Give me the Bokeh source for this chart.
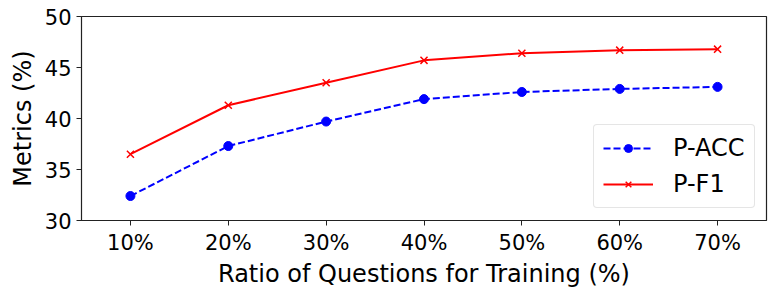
from bokeh.plotting import figure
from bokeh.models import Legend, LegendItem, FixedTicker, Range1d
from bokeh.embed import file_html
from bokeh.resources import INLINE

ratios = ["10%", "20%", "30%", "40%", "50%", "60%", "70%"]
p_acc = [32.4, 37.3, 39.7, 41.9, 42.6, 42.9, 43.1]
p_f1 = [36.5, 41.3, 43.5, 45.7, 46.4, 46.7, 46.8]
y_ticks = [30, 35, 40, 45, 50]

FONT = "DejaVu Sans"

p = figure(x_range=ratios, y_range=Range1d(30, 50), frame_width=685, frame_height=204,
           output_backend="svg", toolbar_location=None,
           min_border_left=81, min_border_top=16, min_border_right=7, min_border_bottom=10)
p.x_range.range_padding = 0
p.grid.visible = False
p.outline_line_color = "#222222"
p.outline_line_width = 1.2
p.background_fill_color = "white"
p.border_fill_color = "white"

r1l = p.line(ratios, p_acc, line_color="#0000ff", line_width=2, line_dash="7 3")
r1m = p.scatter(ratios, p_acc, marker="circle", size=9, fill_color="#0000ff", line_color="#0000ff")
r2l = p.line(ratios, p_f1, line_color="#ff0000", line_width=2)
r2m = p.scatter(ratios, p_f1, marker="x", size=10, line_color="#ff0000", line_width=1.5)

p.yaxis.ticker = FixedTicker(ticks=y_ticks)
for ax in (p.xaxis[0], p.yaxis[0]):
    ax.axis_line_color = "#222222"
    ax.major_tick_line_color = "#222222"
    ax.major_tick_out = 5
    ax.major_tick_in = 0
    ax.minor_tick_out = 0
    ax.minor_tick_in = 0
    ax.major_label_text_font = FONT
    ax.major_label_text_font_size = "21px"
    ax.major_label_text_color = "black"
    ax.axis_label_text_font = FONT
    ax.axis_label_text_font_size = "24px"
    ax.axis_label_text_font_style = "normal"
    ax.axis_label_text_color = "black"
p.xaxis.axis_label = "Ratio of Questions for Training (%)"
p.yaxis.axis_label = "Metrics (%)"
p.xaxis.major_label_standoff = 5
p.yaxis.major_label_standoff = 5
p.xaxis.axis_label_standoff = 2
p.yaxis.axis_label_standoff = 5

legend = Legend(items=[LegendItem(label="P-ACC", renderers=[r1l, r1m]),
                       LegendItem(label="P-F1", renderers=[r2l, r2m])],
                location=(512, 12))
legend.label_text_font = FONT
legend.label_text_font_size = "24px"
legend.label_text_color = "black"
legend.border_line_color = "#cccccc"
legend.border_line_width = 1
legend.border_radius = 4
legend.glyph_width = 50
legend.glyph_height = 20
legend.label_height = 28
legend.spacing = 8
legend.padding = 9
legend.margin = 0
legend.label_standoff = 20
p.add_layout(legend, "center")

open("out.html", "w").write(file_html(p, INLINE))
